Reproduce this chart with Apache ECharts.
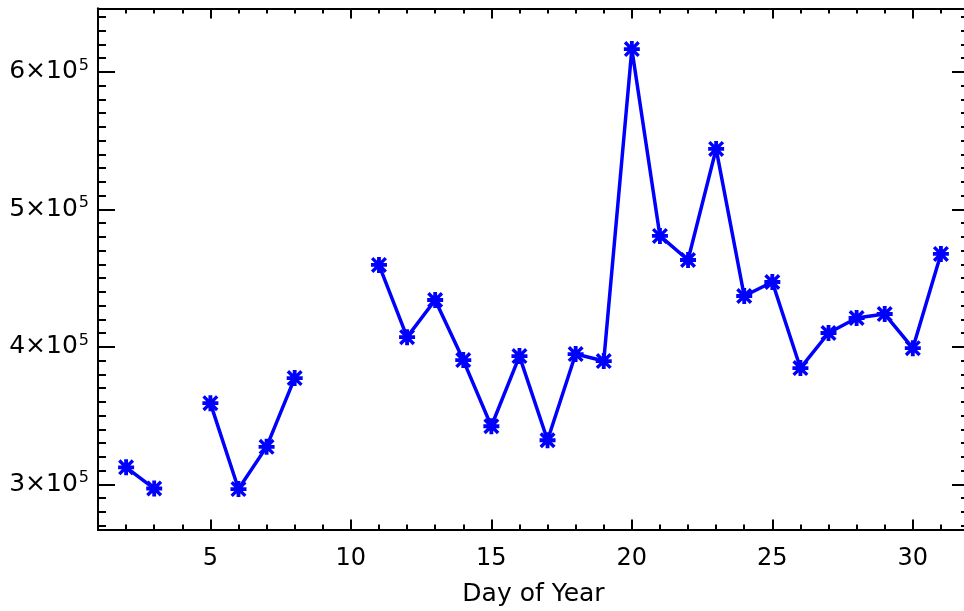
<!DOCTYPE html>
<html>
<head>
<meta charset="utf-8">
<script src="https://cdn.jsdelivr.net/npm/echarts@6/dist/echarts.min.js"></script>
<style>
  html, body { margin: 0; padding: 0; background: #fff; }
  #chart { width: 964px; height: 611px; }
</style>
</head>
<body>
<div id="chart"></div>
<script>
// Daily values; null marks days without a measurement (line breaks there)
const days = [2, 3, 4, 5, 6, 7, 8, 9, 10, 11, 12, 13, 14, 15, 16,
              17, 18, 19, 20, 21, 22, 23, 24, 25, 26, 27, 28, 29, 30, 31];
const counts = [312300, 296900, null, 359000, 296500, 327200, 377200, null, null, 459500,
                407000, 434000, 390300, 342200, 393200, 332000, 394700, 389600, 616500, 480600,
                463100, 543900, 436900, 447100, 384500, 410000, 420900, 423800, 399000, 467500];

// Axis ranges and tick positions
const xRange = [1, 32];
const yRange = [267100, 646000];
const xMajorTicks = [5, 10, 15, 20, 25, 30];
const xMinorTicks = [2, 3, 4, 5, 6, 7, 8, 9, 10, 11, 12, 13, 14, 15, 16, 17,
                     18, 19, 20, 21, 22, 23, 24, 25, 26, 27, 28, 29, 30, 31];
const yMajorTicks = [300000, 400000, 500000, 600000];
const yMinorTicks = [270000, 280000, 290000, 300000, 310000, 320000, 330000, 340000,
                     350000, 360000, 370000, 380000, 390000, 400000, 410000, 420000,
                     430000, 440000, 450000, 460000, 470000, 480000, 490000, 500000,
                     510000, 520000, 530000, 540000, 550000, 560000, 570000, 580000,
                     590000, 600000, 610000, 620000, 630000, 640000];

const FONT = 'DejaVu Sans';
const seriesData = days.map((d, i) => [d, counts[i]]);

// Eight-armed asterisk marker
const asterisk = 'path://M0 7.6L20 7.6L20 12.4L0 12.4Z' +
                 'M7.6 0L12.4 0L12.4 20L7.6 20Z' +
                 'M0 3L3 0L20 17L17 20Z' +
                 'M17 0L20 3L3 20L0 17Z';

const lineStyle = { color: '#000', width: 2 };

function xAx(position, ticks, len, withLabels) {
  return {
    type: 'value', position: position, min: xRange[0], max: xRange[1],
    axisLine: { show: true, onZero: false, lineStyle: lineStyle },
    axisTick: { show: true, inside: true, length: len, customValues: ticks, lineStyle: lineStyle },
    axisLabel: withLabels ? {
      show: true, customValues: xMajorTicks, margin: 17,
      color: '#000', fontFamily: FONT, fontSize: 24
    } : { show: false },
    splitLine: { show: false },
    name: withLabels ? 'Day of Year' : '',
    nameLocation: 'middle', nameGap: 52,
    nameTextStyle: { color: '#000', fontFamily: FONT, fontSize: 25 }
  };
}

function yAx(position, ticks, len, withLabels) {
  return {
    type: 'value', position: position, min: yRange[0], max: yRange[1],
    axisLine: { show: true, onZero: false, lineStyle: lineStyle },
    axisTick: { show: true, inside: true, length: len, customValues: ticks, lineStyle: lineStyle },
    axisLabel: withLabels ? {
      show: true, customValues: yMajorTicks, margin: 9,
      color: '#000', fontFamily: FONT, fontSize: 25,
      formatter: v => '{b|' + (v / 100000) + '×10}{s|5}',
      rich: {
        b: { color: '#000', fontFamily: FONT, fontSize: 25, lineHeight: 28 },
        s: { color: '#000', fontFamily: FONT, fontSize: 16, lineHeight: 28, verticalAlign: 'top', padding: [0, 0, 12, 1] }
      }
    } : { show: false },
    splitLine: { show: false }
  };
}

const chart = echarts.init(document.getElementById('chart'), null, { renderer: 'canvas' });
chart.setOption({
  animation: false,
  backgroundColor: '#fff',
  grid: {
    left: 98, width: 871, top: 8.5, bottom: 81.5,
    containLabel: false, outerBoundsMode: 'none'
  },
  xAxis: [
    xAx('bottom', xMajorTicks, 10, true),
    xAx('bottom', xMinorTicks, 5, false),
    xAx('top', xMajorTicks, 10, false),
    xAx('top', xMinorTicks, 5, false)
  ],
  yAxis: [
    yAx('left', yMajorTicks, 17, true),
    yAx('left', yMinorTicks, 8, false),
    yAx('right', yMajorTicks, 17, false),
    yAx('right', yMinorTicks, 8, false)
  ],
  series: [{
    type: 'line',
    xAxisIndex: 0, yAxisIndex: 0,
    data: seriesData,
    connectNulls: false,
    showAllSymbol: true,
    symbol: asterisk,
    symbolSize: 16,
    itemStyle: { color: '#0000ff' },
    lineStyle: { color: '#0000ff', width: 3.5 }
  }]
});
</script>
</body>
</html>
